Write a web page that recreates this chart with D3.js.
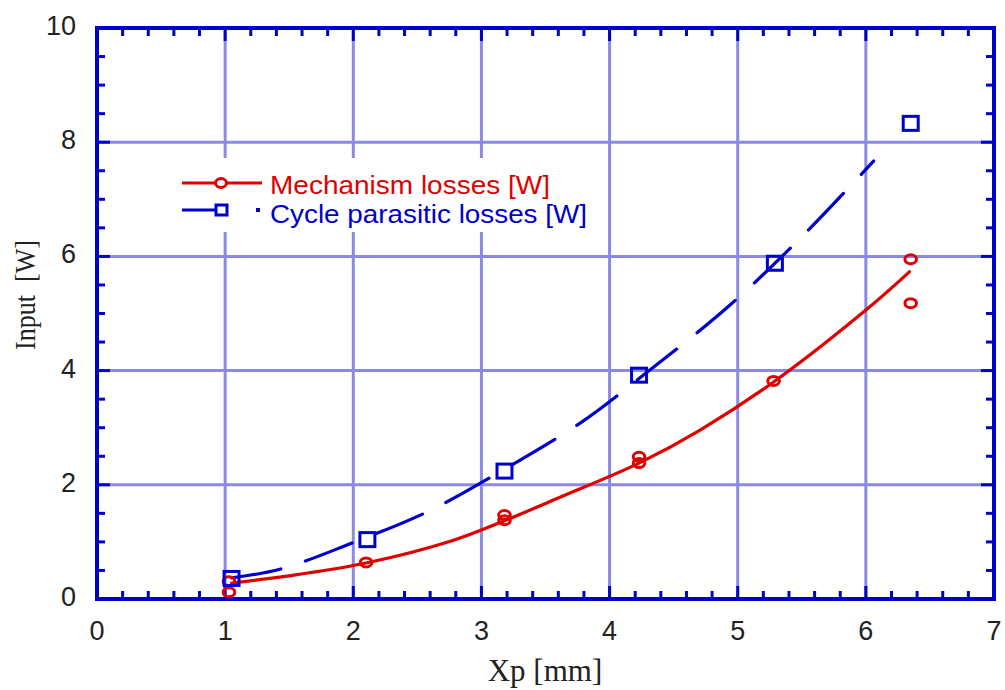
<!DOCTYPE html>
<html>
<head>
<meta charset="utf-8">
<script src="https://cdn.jsdelivr.net/npm/d3@7"></script>
<style>
  html, body { margin: 0; padding: 0; background: #ffffff; }
  svg { display: block; }
</style>
</head>
<body>
<svg id="chart" width="1005" height="690"></svg>
<script>
// Measured points: mechanism losses (red circles)
const mechX = [1.03, 1.03, 2.10, 3.18, 3.18, 4.23, 4.23, 5.28, 6.35, 6.35];
const mechY = [0.12, 0.31, 0.64, 1.47, 1.38, 2.49, 2.38, 3.82, 5.95, 5.18];

// Measured points: cycle parasitic losses (blue squares)
const cycX = [1.05, 2.11, 3.18, 4.23, 5.29, 6.35];
const cycY = [0.36, 1.04, 2.24, 3.92, 5.88, 8.33];

// Fitted curve through the mechanism losses (solid red)
const mechFitX = [1.05, 1.48, 2.10, 2.77, 3.18, 3.60, 4.23, 4.70, 5.28, 6.00, 6.34];
const mechFitY = [0.28, 0.40, 0.63, 1.02, 1.37, 1.77, 2.38, 2.95, 3.80, 5.06, 5.73];

// Fitted curve through the cycle parasitic losses (dashed blue)
const cycFitX = [1.05, 1.44, 1.99, 2.59, 3.14, 3.77, 4.23, 4.94, 5.52, 6.06];
const cycFitY = [0.37, 0.53, 0.98, 1.54, 2.22, 3.08, 3.86, 5.15, 6.39, 7.67];

// Axis ticks
const xMajor = [0, 1, 2, 3, 4, 5, 6, 7];
const yMajor = [0, 2, 4, 6, 8, 10];
const xGrid = [1, 2, 3, 4, 5, 6];
const yGrid = [2, 4, 6, 8];

const legendLabels = ["Mechanism losses [W]", "Cycle parasitic losses [W]"];

const RED = "#e00000";
const BLUE = "#0000cc";
const GRID = "#8a8ae6";
const TEXT = "#222222";

const svg = d3.select("#chart");
const x = d3.scaleLinear().domain([0, 7]).range([97, 994]);
const y = d3.scaleLinear().domain([0, 10]).range([599, 28]);

// Grid lines
const grid = svg.append("g");
grid.selectAll(".vg").data(xGrid).join("line")
  .attr("x1", d => x(d)).attr("x2", d => x(d))
  .attr("y1", y(10)).attr("y2", y(0))
  .attr("stroke", GRID).attr("stroke-width", 3);
grid.selectAll(".hg").data(yGrid).join("line")
  .attr("x1", x(0)).attr("x2", x(7))
  .attr("y1", d => y(d)).attr("y2", d => y(d))
  .attr("stroke", GRID).attr("stroke-width", 3);

// Inward ticks on all four sides
const xMinor = d3.range(0, 7.0001, 0.2).map(v => +v.toFixed(1)).filter(v => !xMajor.includes(v));
const yMinor = d3.range(0, 10.0001, 0.5).map(v => +v.toFixed(1)).filter(v => !yMajor.includes(v));
const ticks = svg.append("g").attr("stroke", BLUE).attr("stroke-width", 3);
function xTicks(vals, len) {
  ticks.selectAll(null).data(vals).join("line")
    .attr("x1", d => x(d)).attr("x2", d => x(d))
    .attr("y1", y(0)).attr("y2", y(0) - len);
  ticks.selectAll(null).data(vals).join("line")
    .attr("x1", d => x(d)).attr("x2", d => x(d))
    .attr("y1", y(10)).attr("y2", y(10) + len);
}
function yTicks(vals, len) {
  ticks.selectAll(null).data(vals).join("line")
    .attr("x1", x(0)).attr("x2", x(0) + len)
    .attr("y1", d => y(d)).attr("y2", d => y(d));
  ticks.selectAll(null).data(vals).join("line")
    .attr("x1", x(7)).attr("x2", x(7) - len)
    .attr("y1", d => y(d)).attr("y2", d => y(d));
}
xTicks(xMinor, 8); xTicks(xMajor, 13);
yTicks(yMinor, 8); yTicks(yMajor, 13);

// Frame
svg.append("rect")
  .attr("x", x(0)).attr("y", y(10))
  .attr("width", x(7) - x(0)).attr("height", y(0) - y(10))
  .attr("fill", "none").attr("stroke", BLUE).attr("stroke-width", 4);

// Tick labels
svg.append("g").selectAll("text").data(xMajor).join("text")
  .attr("x", d => x(d)).attr("y", 640)
  .attr("text-anchor", "middle")
  .attr("font-family", "'Liberation Sans', Arial, sans-serif")
  .attr("font-size", 27).attr("fill", TEXT)
  .text(d => d);
svg.append("g").selectAll("text").data(yMajor).join("text")
  .attr("x", 76).attr("y", d => y(d) + 7)
  .attr("text-anchor", "end")
  .attr("font-family", "'Liberation Sans', Arial, sans-serif")
  .attr("font-size", 27).attr("fill", TEXT)
  .text(d => d);

// Axis titles
svg.append("text")
  .attr("x", 545).attr("y", 681)
  .attr("text-anchor", "middle")
  .attr("font-family", "'Liberation Serif', 'Times New Roman', serif")
  .attr("font-size", 31).attr("fill", TEXT)
  .text("Xp [mm]");
svg.append("text")
  .attr("transform", "translate(35,295) rotate(-90)")
  .attr("text-anchor", "middle")
  .attr("font-family", "'Liberation Serif', 'Times New Roman', serif")
  .attr("font-size", 30).attr("fill", TEXT)
  .attr("textLength", 110).attr("lengthAdjust", "spacingAndGlyphs")
  .text("Input\u00a0\u00a0[W]");

// Curves
const line = d3.line().x(d => x(d[0])).y(d => y(d[1])).curve(d3.curveCatmullRom.alpha(0.5));
svg.append("path")
  .attr("d", line(d3.zip(mechFitX, mechFitY)))
  .attr("fill", "none").attr("stroke", RED).attr("stroke-width", 3.2)
  .attr("stroke-linejoin", "round").attr("stroke-linecap", "round");
svg.append("path")
  .attr("d", line(d3.zip(cycFitX, cycFitY)))
  .attr("fill", "none").attr("stroke", BLUE).attr("stroke-width", 3.2)
  .attr("stroke-dasharray", "50 26")
  .attr("stroke-linecap", "round");

// Markers
svg.append("g").selectAll("ellipse").data(d3.zip(mechX, mechY)).join("ellipse")
  .attr("cx", d => x(d[0])).attr("cy", d => y(d[1]))
  .attr("rx", 5.8).attr("ry", 4.5)
  .attr("fill", "none").attr("stroke", RED).attr("stroke-width", 3);
svg.append("g").selectAll("rect").data(d3.zip(cycX, cycY)).join("rect")
  .attr("x", d => x(d[0]) - 7.5).attr("y", d => y(d[1]) - 7)
  .attr("width", 15).attr("height", 14)
  .attr("fill", "none").attr("stroke", BLUE).attr("stroke-width", 3);

// Legend
const lg = svg.append("g");
lg.append("rect").attr("x", 168).attr("y", 158).attr("width", 432).attr("height", 74).attr("fill", "#ffffff");
lg.append("line").attr("x1", 182).attr("x2", 262).attr("y1", 183).attr("y2", 183)
  .attr("stroke", RED).attr("stroke-width", 3.2);
lg.append("ellipse").attr("cx", 221).attr("cy", 183).attr("rx", 5.5).attr("ry", 4.5)
  .attr("fill", "#ffffff").attr("stroke", RED).attr("stroke-width", 3);
lg.append("line").attr("x1", 182).attr("x2", 222).attr("y1", 210).attr("y2", 210)
  .attr("stroke", BLUE).attr("stroke-width", 3.2);
lg.append("rect").attr("x", 216).attr("y", 205).attr("width", 11).attr("height", 10)
  .attr("fill", "#ffffff").attr("stroke", BLUE).attr("stroke-width", 3);
lg.append("rect").attr("x", 256).attr("y", 208).attr("width", 4).attr("height", 4).attr("fill", BLUE);
lg.append("text").attr("x", 270).attr("y", 194)
  .attr("font-family", "'Liberation Sans', Arial, sans-serif")
  .attr("font-size", 25).attr("fill", RED)
  .attr("textLength", 280).attr("lengthAdjust", "spacingAndGlyphs")
  .text(legendLabels[0]);
lg.append("text").attr("x", 270).attr("y", 223)
  .attr("font-family", "'Liberation Sans', Arial, sans-serif")
  .attr("font-size", 25).attr("fill", BLUE)
  .attr("textLength", 317).attr("lengthAdjust", "spacingAndGlyphs")
  .text(legendLabels[1]);
</script>
</body>
</html>
